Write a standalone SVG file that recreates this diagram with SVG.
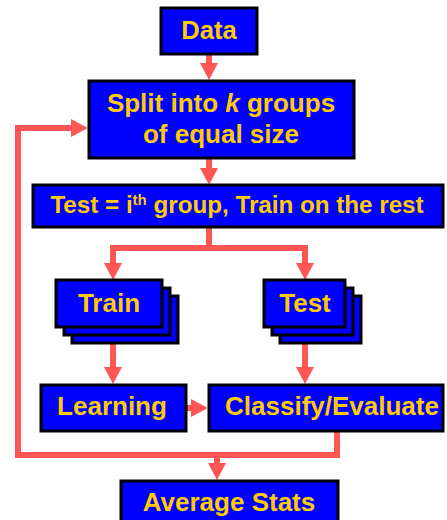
<svg xmlns="http://www.w3.org/2000/svg" width="447" height="520" viewBox="0 0 447 520">
<defs>
<style>
.box{fill:#0000FF;stroke:#000;stroke-width:3}
.t{font-family:"Liberation Sans",Arial,sans-serif;font-weight:bold;fill:#FFCC00;text-anchor:middle}
.c{fill:none;stroke:#FF5555;stroke-width:6}
.h{fill:#FF5555}
</style>
</defs>
<rect width="447" height="520" fill="#fff"/>
<g id="connectors">
<path class="c" d="M209,49V64"/>
<polygon class="h" points="200,63 218,63 209,80"/>
<path class="c" d="M209,153V169"/>
<polygon class="h" points="200,168 218,168 209,185"/>
<path class="c" d="M209,225V248M113,248H305M113,245V264M305,245V264"/>
<polygon class="h" points="104,263 122,263 113,280"/>
<polygon class="h" points="296,263 314,263 305,280"/>
<path class="c" d="M113,327V368"/>
<polygon class="h" points="104,367 122,367 113,384"/>
<path class="c" d="M305,327V368"/>
<polygon class="h" points="296,367 314,367 305,384"/>
<path class="c" d="M186,408H192"/>
<polygon class="h" points="191,399 191,417 208,408"/>
<path class="c" d="M337,431V455H18V128H72"/>
<polygon class="h" points="71,119 71,137 88,128"/>
<path class="c" d="M217,455V464"/>
<polygon class="h" points="208,463 226,463 217,480"/>
</g>
<g id="data">
<rect class="box" x="161" y="8" width="96" height="46"/>
<text class="t" x="209" y="39" font-size="25.5">Data</text>
</g>
<g id="split">
<rect class="box" x="89" y="81" width="265" height="77"/>
<text class="t" x="221" y="112" font-size="26">Split into <tspan font-style="italic">k</tspan> groups</text>
<text class="t" x="221" y="143" font-size="26">of equal size</text>
</g>
<g id="testtrain">
<rect class="box" x="33" y="185" width="410" height="42"/>
<text class="t" x="237" y="213" font-size="24.2">Test = i<tspan font-size="15" dy="-8">th</tspan><tspan dy="8"> group, Train on the rest</tspan></text>
</g>
<g id="train">
<rect class="box" x="72" y="296" width="106" height="47"/>
<rect class="box" x="64" y="288" width="106" height="47"/>
<rect class="box" x="56" y="280" width="106" height="47"/>
<text class="t" x="109" y="312" font-size="26">Train</text>
</g>
<g id="test">
<rect class="box" x="280" y="296" width="81" height="47"/>
<rect class="box" x="272" y="288" width="81" height="47"/>
<rect class="box" x="264" y="280" width="81" height="47"/>
<text class="t" x="305" y="312" font-size="26">Test</text>
</g>
<g id="learning">
<rect class="box" x="41" y="385" width="145" height="46"/>
<text class="t" x="112" y="415" font-size="26">Learning</text>
</g>
<g id="classify">
<rect class="box" x="209" y="385" width="234" height="46"/>
<text class="t" x="332" y="415" font-size="26">Classify/Evaluate</text>
</g>
<g id="average">
<rect class="box" x="121" y="481" width="217" height="46"/>
<text class="t" x="229" y="511" font-size="26">Average Stats</text>
</g>
</svg>
